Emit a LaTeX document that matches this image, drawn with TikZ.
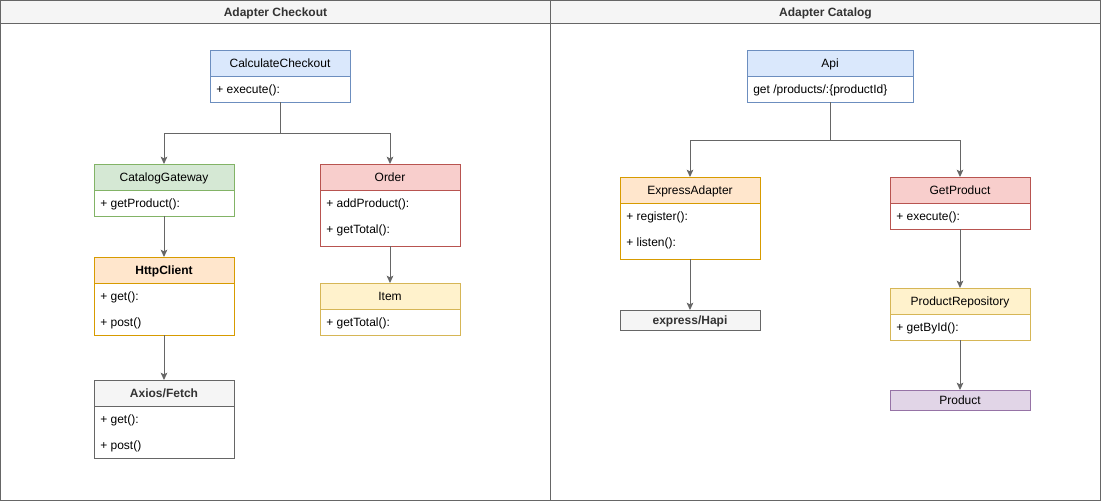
\documentclass[tikz,border=0pt]{standalone}
\usepackage{fontspec}
\setmainfont{Liberation Sans}
\usetikzlibrary{arrows.meta}

\definecolor{laneFill}{HTML}{F5F5F5}
\definecolor{laneLine}{HTML}{666666}
\definecolor{darkText}{HTML}{333333}
\definecolor{blueFill}{HTML}{DAE8FC}
\definecolor{blueLine}{HTML}{6C8EBF}
\definecolor{greenFill}{HTML}{D5E8D4}
\definecolor{greenLine}{HTML}{82B366}
\definecolor{redFill}{HTML}{F8CECC}
\definecolor{redLine}{HTML}{B85450}
\definecolor{yellowFill}{HTML}{FFF2CC}
\definecolor{yellowLine}{HTML}{D6B656}
\definecolor{orangeFill}{HTML}{FFE6CC}
\definecolor{orangeLine}{HTML}{D79B00}
\definecolor{purpleFill}{HTML}{E1D5E7}
\definecolor{purpleLine}{HTML}{9673A6}

\begin{document}
\begin{tikzpicture}[x=0.75pt, y=-0.75pt,
  every node/.style={font=\fontsize{9pt}{11pt}\selectfont},
  lane/.style={draw=laneLine, line width=0.75pt},
  lanehead/.style={draw=laneLine, fill=laneFill, line width=0.75pt},
  lanetitle/.style={text=darkText, font=\fontsize{9pt}{11pt}\selectfont\bfseries, inner sep=0pt,
    text height=8.4pt, text depth=1.4pt},
  hdr/.style={draw, line width=0.75pt, anchor=north west, inner sep=0pt, outer sep=0pt,
    minimum width=105pt, minimum height=19.5pt, text height=8.4pt, text depth=1.4pt},
  body/.style={draw, fill=white, line width=0.75pt, anchor=north west, inner sep=0pt,
    outer sep=0pt, minimum width=105pt},
  row/.style={anchor=west, inner sep=0pt, text height=8.4pt, text depth=1.4pt},
  grayhdr/.style={hdr, draw=laneLine, fill=laneFill, text=darkText,
    font=\fontsize{9pt}{11pt}\selectfont\bfseries},
  conn/.style={draw=laneLine, line width=0.75pt,
    -{Stealth[length=5.5pt, width=5pt, inset=1.2pt]}},
]
\useasboundingbox (0,0) rectangle (1101,501);

% swimlanes
\draw[lane, fill=white] (0.5,0.5) rectangle (550.5,500.5);
\draw[lanehead] (0.5,0.5) rectangle (550.5,23.5);
\node[lanetitle] (laneL) at (275.5,12) {Adapter Checkout};
\draw[lane] (550.5,0.5) rectangle (1100.5,500.5);
\draw[lanehead] (550.5,0.5) rectangle (1100.5,23.5);
\node[lanetitle] (laneR) at (825.5,12) {Adapter Catalog};

% ---------- Adapter Checkout ----------
\node[body, draw=blueLine, minimum height=19.5pt] (ccB) at (210,76) {};
\node[hdr, draw=blueLine, fill=blueFill] (cc) at (210,50) {CalculateCheckout};
\node[row] (cc1) at (216,89) {+ execute():};

\node[body, draw=greenLine, minimum height=19.5pt] (cgB) at (94,190) {};
\node[hdr, draw=greenLine, fill=greenFill] (cg) at (94,164) {CatalogGateway};
\node[row] (cg1) at (100,203) {+ getProduct():};

\node[body, draw=redLine, minimum height=42pt] (orB) at (320,190) {};
\node[hdr, draw=redLine, fill=redFill] (or) at (320,164) {Order};
\node[row] (or1) at (326,203) {+ addProduct():};
\node[row] (or2) at (326,229) {+ getTotal():};

\node[body, draw=yellowLine, minimum height=19.5pt] (itB) at (320,309) {};
\node[hdr, draw=yellowLine, fill=yellowFill] (it) at (320,283) {Item};
\node[row] (it1) at (326,322) {+ getTotal():};

\node[body, draw=orangeLine, minimum height=39pt] (hcB) at (94,283) {};
\node[hdr, draw=orangeLine, fill=orangeFill, font=\fontsize{9pt}{11pt}\selectfont\bfseries] (hc) at (94,257) {HttpClient};
\node[row] (hc1) at (100,296) {+ get():};
\node[row] (hc2) at (100,322) {+ post()};

\node[body, draw=laneLine, minimum height=39pt] (axB) at (94,406) {};
\node[grayhdr] (ax) at (94,380) {Axios/Fetch};
\node[row] (ax1) at (100,419) {+ get():};
\node[row] (ax2) at (100,445) {+ post()};

\coordinate (jL) at (280,133);
\draw[conn] (ccB.south) -- (jL) -| (cg.north);
\draw[conn] (jL) -| (or.north);
\draw[conn] (cgB.south) -- (hc.north);
\draw[conn] (hcB.south) -- (ax.north);
\draw[conn] (orB.south) -- (it.north);

% ---------- Adapter Catalog ----------
\node[body, draw=blueLine, minimum height=19.5pt, minimum width=124.5pt] (apB) at (747,76) {};
\node[hdr, draw=blueLine, fill=blueFill, minimum width=124.5pt] (ap) at (747,50) {Api};
\node[row] (ap1) at (753,89) {get /products/:\{productId\}};

\node[body, draw=orangeLine, minimum height=42pt] (exB) at (620,203) {};
\node[hdr, draw=orangeLine, fill=orangeFill] (ex) at (620,177) {ExpressAdapter};
\node[row] (ex1) at (626,216) {+ register():};
\node[row] (ex2) at (626,242) {+ listen():};

\node[body, draw=redLine, minimum height=19.5pt] (gpB) at (890,203) {};
\node[hdr, draw=redLine, fill=redFill] (gp) at (890,177) {GetProduct};
\node[row] (gp1) at (896,216) {+ execute():};

\node[grayhdr, minimum height=15pt] (eh) at (620,310) {express/Hapi};

\node[body, draw=yellowLine, minimum height=19.5pt] (prB) at (890,314) {};
\node[hdr, draw=yellowLine, fill=yellowFill] (pr) at (890,288) {ProductRepository};
\node[row] (pr1) at (896,327) {+ getById():};

\node[hdr, draw=purpleLine, fill=purpleFill, minimum height=15pt] (pd) at (890,390) {Product};

\coordinate (jR) at (830,140);
\draw[conn] (apB.south) -- (jR) -| (ex.north);
\draw[conn] (jR) -| (gp.north);
\draw[conn] (exB.south) -- (eh.north);
\draw[conn] (gpB.south) -- (pr.north);
\draw[conn] (prB.south) -- (pd.north);
\end{tikzpicture}
\end{document}
